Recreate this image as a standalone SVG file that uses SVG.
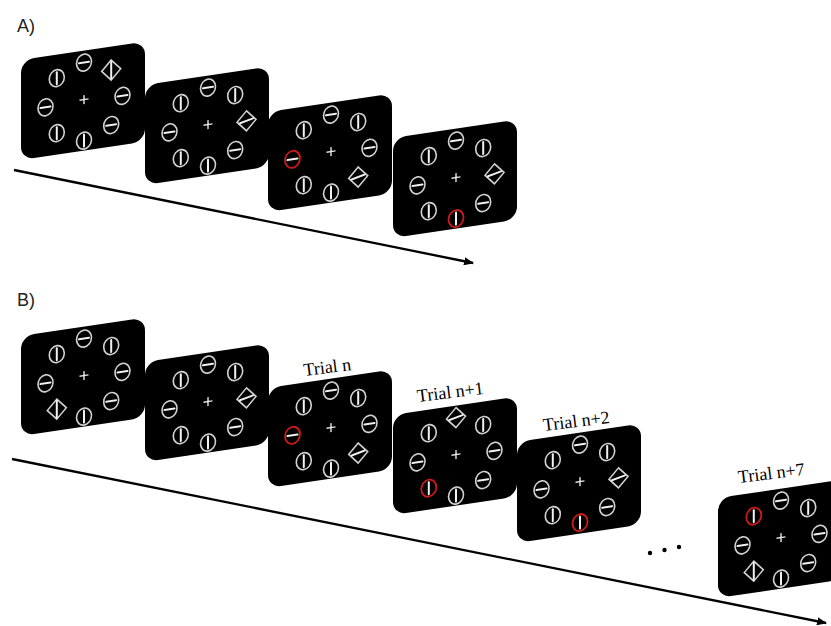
<svg xmlns="http://www.w3.org/2000/svg" width="831" height="626" viewBox="0 0 831 626">
<style>
.fr{fill:#000}
.ring{fill:none;stroke:#d2d2d2;stroke-width:1.6}
.ringr{fill:none;stroke:#cc1a1a;stroke-width:1.8}
.bar{stroke:#f2f2f2;stroke-width:2;stroke-linecap:round}
.plus{stroke:#e6e6e6;stroke-width:1.4;fill:none}
.lbl{font-family:"Liberation Sans",Arial,sans-serif;font-size:18px;fill:#222}
.trial{font-family:"Liberation Serif","Times New Roman",serif;font-size:18px;fill:#000}
.axis{stroke:#000;stroke-width:2.3;fill:none}
</style>
<defs>
<g id="H"><ellipse class="ring" rx="7.5" ry="8.5"/><line class="bar" x1="-5" y1="0" x2="5" y2="0"/></g>
<g id="V"><ellipse class="ring" rx="7.5" ry="8.5"/><line class="bar" x1="0" y1="-6" x2="0" y2="6"/></g>
<g id="HR"><ellipse class="ringr" rx="7.5" ry="8.5"/><line class="bar" x1="-5" y1="0" x2="5" y2="0"/></g>
<g id="VR"><ellipse class="ringr" rx="7.5" ry="8.5"/><line class="bar" x1="0" y1="-6" x2="0" y2="6"/></g>
<g id="DH"><polygon class="ring" points="0,-10 9.5,0 0,10 -9.5,0"/><line class="bar" x1="-6.5" y1="1.5" x2="6.5" y2="-1.5"/></g>
<g id="DV"><polygon class="ring" points="0,-10 9.5,0 0,10 -9.5,0"/><line class="bar" x1="0" y1="-8.5" x2="0" y2="8.5"/></g>
<path id="P" class="plus" d="M-4.5,0H4.5M0,-4.5V4.5"/>
<marker id="ah" viewBox="0 0 10 8" refX="9" refY="4" markerWidth="10" markerHeight="8" markerUnits="userSpaceOnUse" orient="auto"><path d="M0,0L10,4L0,8Z" fill="#000"/></marker>
</defs>

<text class="lbl" x="17" y="32">A)</text>
<text class="lbl" x="17" y="306">B)</text>

<g id="connectors">
<line class="axis" x1="14" y1="170" x2="473" y2="263" marker-end="url(#ah)"/>
<line class="axis" x1="12" y1="459" x2="826" y2="623" marker-end="url(#ah)"/>
</g>

<g id="a1" transform="translate(21,60) skewY(-8.5)">
<rect class="fr" width="124" height="100" rx="13"/>
<use href="#P" x="63" y="49"/>
<use href="#H" x="63" y="12"/><use href="#DV" x="90.2" y="23.5"/><use href="#H" x="101.5" y="51"/><use href="#H" x="90.2" y="78.5"/>
<use href="#V" x="63" y="90"/><use href="#V" x="35.8" y="78.5"/><use href="#H" x="24.5" y="51"/><use href="#V" x="35.8" y="23.5"/>
</g>
<g id="a2" transform="translate(145,85) skewY(-8.5)">
<rect class="fr" width="124" height="100" rx="13"/>
<use href="#P" x="63" y="49"/>
<use href="#H" x="63" y="12"/><use href="#V" x="90.2" y="23.5"/><use href="#DH" x="101.5" y="51"/><use href="#H" x="90.2" y="78.5"/>
<use href="#V" x="63" y="90"/><use href="#V" x="35.8" y="78.5"/><use href="#H" x="24.5" y="51"/><use href="#V" x="35.8" y="23.5"/>
</g>
<g id="a3" transform="translate(268,112) skewY(-8.5)">
<rect class="fr" width="124" height="100" rx="13"/>
<use href="#P" x="63" y="49"/>
<use href="#H" x="63" y="12"/><use href="#V" x="90.2" y="23.5"/><use href="#H" x="101.5" y="51"/><use href="#DH" x="90.2" y="78.5"/>
<use href="#V" x="63" y="90"/><use href="#V" x="35.8" y="78.5"/><use href="#HR" x="24.5" y="51"/><use href="#V" x="35.8" y="23.5"/>
</g>
<g id="a4" transform="translate(393,138) skewY(-8.5)">
<rect class="fr" width="124" height="100" rx="13"/>
<use href="#P" x="63" y="49"/>
<use href="#H" x="63" y="12"/><use href="#V" x="90.2" y="23.5"/><use href="#DH" x="101.5" y="51"/><use href="#H" x="90.2" y="78.5"/>
<use href="#VR" x="63" y="90"/><use href="#V" x="35.8" y="78.5"/><use href="#H" x="24.5" y="51"/><use href="#V" x="35.8" y="23.5"/>
</g>

<g id="b1" transform="translate(21,336) skewY(-8.5)">
<rect class="fr" width="124" height="100" rx="13"/>
<use href="#P" x="63" y="49"/>
<use href="#H" x="63" y="12"/><use href="#V" x="90.2" y="23.5"/><use href="#H" x="101.5" y="51"/><use href="#H" x="90.2" y="78.5"/>
<use href="#V" x="63" y="90"/><use href="#DV" x="35.8" y="78.5"/><use href="#H" x="24.5" y="51"/><use href="#V" x="35.8" y="23.5"/>
</g>
<g id="b2" transform="translate(145,362) skewY(-8.5)">
<rect class="fr" width="124" height="100" rx="13"/>
<use href="#P" x="63" y="49"/>
<use href="#H" x="63" y="12"/><use href="#V" x="90.2" y="23.5"/><use href="#DH" x="101.5" y="51"/><use href="#H" x="90.2" y="78.5"/>
<use href="#V" x="63" y="90"/><use href="#V" x="35.8" y="78.5"/><use href="#H" x="24.5" y="51"/><use href="#V" x="35.8" y="23.5"/>
</g>
<g id="b3" transform="translate(268,388) skewY(-8.5)">
<rect class="fr" width="124" height="100" rx="13"/>
<use href="#P" x="63" y="49"/>
<use href="#H" x="63" y="12"/><use href="#V" x="90.2" y="23.5"/><use href="#H" x="101.5" y="51"/><use href="#DH" x="90.2" y="78.5"/>
<use href="#V" x="63" y="90"/><use href="#V" x="35.8" y="78.5"/><use href="#HR" x="24.5" y="51"/><use href="#V" x="35.8" y="23.5"/>
</g>
<g id="b4" transform="translate(393,415) skewY(-8.5)">
<rect class="fr" width="124" height="100" rx="13"/>
<use href="#P" x="63" y="49"/>
<use href="#DH" x="63" y="12"/><use href="#V" x="90.2" y="23.5"/><use href="#H" x="101.5" y="51"/><use href="#H" x="90.2" y="78.5"/>
<use href="#V" x="63" y="90"/><use href="#VR" x="35.8" y="78.5"/><use href="#H" x="24.5" y="51"/><use href="#V" x="35.8" y="23.5"/>
</g>
<g id="b5" transform="translate(517,442) skewY(-8.5)">
<rect class="fr" width="124" height="101" rx="13"/>
<use href="#P" x="63" y="49"/>
<use href="#H" x="63" y="12"/><use href="#V" x="90.2" y="23.5"/><use href="#DH" x="101.5" y="51"/><use href="#H" x="90.2" y="78.5"/>
<use href="#VR" x="63" y="90"/><use href="#V" x="35.8" y="78.5"/><use href="#H" x="24.5" y="51"/><use href="#V" x="35.8" y="23.5"/>
</g>
<g id="b6" transform="translate(718,498) skewY(-8.5)">
<rect class="fr" width="124" height="100" rx="13"/>
<use href="#P" x="63" y="49"/>
<use href="#H" x="63" y="12"/><use href="#V" x="90.2" y="23.5"/><use href="#H" x="101.5" y="51"/><use href="#H" x="90.2" y="78.5"/>
<use href="#V" x="63" y="90"/><use href="#DV" x="35.8" y="78.5"/><use href="#H" x="24.5" y="51"/><use href="#VR" x="35.8" y="23.5"/>
</g>

<g id="ellipsis" fill="#000">
<circle cx="650" cy="553" r="2.2"/><circle cx="664.5" cy="550" r="2.2"/><circle cx="679" cy="547" r="2.2"/>
</g>

<g id="labels">
<text class="trial" x="328" y="373" text-anchor="middle" transform="rotate(-7 328 373)">Trial n</text>
<text class="trial" x="451" y="398" text-anchor="middle" transform="rotate(-7 451 398)">Trial n+1</text>
<text class="trial" x="577" y="427" text-anchor="middle" transform="rotate(-7 577 427)">Trial n+2</text>
<text class="trial" x="772" y="479" text-anchor="middle" transform="rotate(-7 772 479)">Trial n+7</text>
</g>
</svg>
